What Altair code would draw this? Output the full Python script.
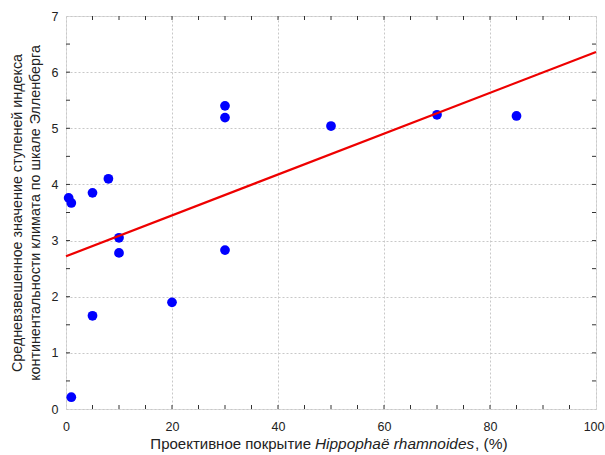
import altair as alt
import pandas as pd

# data
cover = [0.5, 1, 1, 5, 5, 8, 10, 10, 20, 30, 30, 30, 50, 70, 85]
index = [3.76, 3.67, 0.21, 3.85, 1.66, 4.10, 3.05, 2.78, 1.90, 2.83, 5.40, 5.19, 5.04, 5.24, 5.22]
fit_x = [0, 100]
fit_y = [2.72, 6.36]
x_major = [0, 20, 40, 60, 80, 100]
y_major = [0, 1, 2, 3, 4, 5, 6, 7]
x_minor = [v * 5 for v in range(1, 20)]
y_minor = [v * 0.5 for v in range(1, 14)]

W, H = 530, 393
FONT = "Liberation Sans"

pts = pd.DataFrame({"x": cover, "y": index})
fit = pd.DataFrame({"x": fit_x, "y": fit_y})
xm = pd.DataFrame({"v": x_minor})
ym = pd.DataFrame({"v": y_minor})

xs = alt.Scale(domain=[0, 100], nice=False, zero=False)
ys = alt.Scale(domain=[0, 7], nice=False, zero=False)

xaxis = alt.Axis(values=x_major, format="d", title=None, labelFont=FONT, labelFontSize=12.5,
                 labelColor="#222", tickSize=0, labelPadding=11, domain=False,
                 grid=True, gridColor="#c8c8c8", gridDash=[2, 2], labelFlush=False,
                 labelAlign={"condition": {"test": "datum.value == 100", "value": "right"}, "value": "center"},
                 labelOffset={"condition": {"test": "datum.value == 100", "value": 8}, "value": 0})
yaxis = alt.Axis(values=y_major, format="d",
                 title=["Средневзвешенное значение ступеней индекса",
                        "континентальности климата по шкале Элленберга"],
                 titleFont=FONT, titleFontSize=14.3, titleFontWeight="normal", titleColor="#222",
                 titlePadding=9, titleLineHeight=18,
                 labelFont=FONT, labelFontSize=12.5, labelColor="#222", tickSize=0, labelPadding=8,
                 domain=False, grid=True, gridColor="#c8c8c8", gridDash=[2, 2])

points = alt.Chart(pts).mark_circle(size=95, color="#0000ff", opacity=1).encode(
    x=alt.X("x:Q", scale=xs, axis=xaxis),
    y=alt.Y("y:Q", scale=ys, axis=yaxis),
)
line = alt.Chart(fit).mark_line(color="#ee0000", strokeWidth=2.2).encode(
    x=alt.X("x:Q", scale=xs), y=alt.Y("y:Q", scale=ys)
)

tick_col = "#333"
xb = alt.Chart(xm).mark_rule(color=tick_col).encode(x=alt.X("v:Q", scale=xs), y=alt.value(H), y2=alt.value(H - 4))
xt = alt.Chart(xm).mark_rule(color=tick_col).encode(x=alt.X("v:Q", scale=xs), y=alt.value(0), y2=alt.value(4))
yl = alt.Chart(ym).mark_rule(color=tick_col).encode(y=alt.Y("v:Q", scale=ys), x=alt.value(0), x2=alt.value(4))
yr = alt.Chart(ym).mark_rule(color=tick_col).encode(y=alt.Y("v:Q", scale=ys), x=alt.value(W), x2=alt.value(W - 4))

TY = H + 40
t1 = alt.Chart(pd.DataFrame({"t": ["Проективное покрытие"]})).mark_text(
    font=FONT, fontSize=15, color="#222", align="right", baseline="alphabetic"
).encode(text="t:N", x=alt.value(245), y=alt.value(TY))
t2 = alt.Chart(pd.DataFrame({"t": ["Hippophaë rhamnoides"]})).mark_text(
    font=FONT, fontSize=15.4, fontStyle="italic", color="#222", align="left", baseline="alphabetic"
).encode(text="t:N", x=alt.value(249), y=alt.value(TY))
t3 = alt.Chart(pd.DataFrame({"t": [", (%)"]})).mark_text(
    font=FONT, fontSize=15.5, color="#222", align="left", baseline="alphabetic"
).encode(text="t:N", x=alt.value(409), y=alt.value(TY))

chart = alt.layer(points, line, xb, xt, yl, yr, t1, t2, t3).properties(
    width=W, height=H,
    autosize=alt.AutoSizeParams(type="none"),
    padding={"left": 66, "top": 16, "right": 9, "bottom": 46},
).configure_view(stroke="#222", strokeWidth=1.2).configure(background="white")

chart.save("out.html", embed_options={"renderer": "svg", "actions": False})
